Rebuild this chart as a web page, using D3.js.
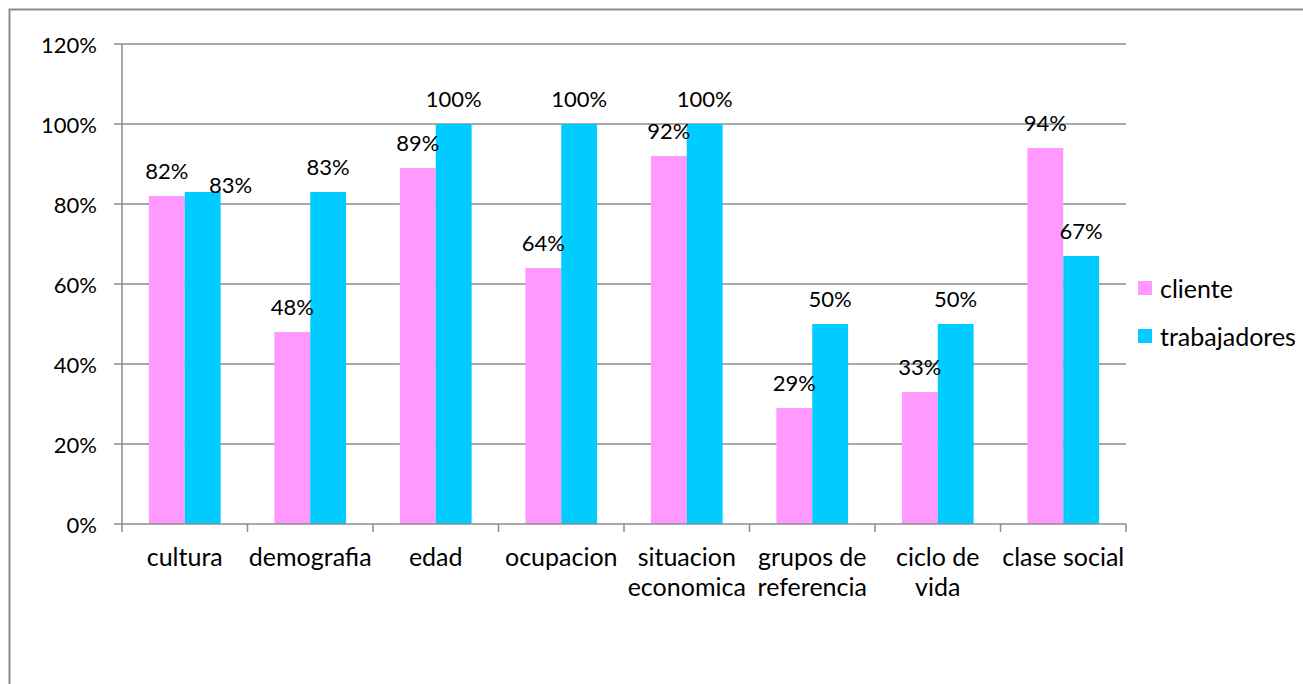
<!DOCTYPE html>
<html>
<head>
<meta charset="utf-8">
<script src="https://cdn.jsdelivr.net/npm/d3@7"></script>
<style>
  html, body { margin: 0; padding: 0; background: #fff; }
  svg { display: block; }
  text { font-family: Lato, "Open Sans", sans-serif; fill: #000; }
</style>
</head>
<body>
<svg id="chart" width="1303" height="684"></svg>
<script>
// chart data
const categories = [
  ['cultura'],
  ['demografia'],
  ['edad'],
  ['ocupacion'],
  ['situacion', 'economica'],
  ['grupos de', 'referencia'],
  ['ciclo de', 'vida'],
  ['clase social']
];
const seriesNames = ['cliente', 'trabajadores'];
const cliente = [0.82, 0.48, 0.89, 0.64, 0.92, 0.29, 0.33, 0.94];
const trabajadores = [0.83, 0.83, 1.00, 1.00, 1.00, 0.50, 0.50, 0.67];
const yTicks = [0, 0.2, 0.4, 0.6, 0.8, 1.0, 1.2];

const COLORS = { cliente: '#ff99ff', trabajadores: '#00ccff' };
const GRID = '#8c8c8c';
const NUM_FONT = 22;   // digits run wide in Lato, so numbers get a smaller size
const WORD_FONT = 25;

// Excel moved one label aside so it would not collide with its neighbour
const labelNudge = { '0-trabajadores': { dx: 28, dy: 18 } };

const svg = d3.select('#chart');
const margin = { left: 122, right: 1126, top: 44, bottom: 524 };

// outer chart border (runs off the right and bottom edges)
svg.append('rect')
  .attr('x', 9.5).attr('y', 9.5)
  .attr('width', 1400).attr('height', 800)
  .attr('fill', 'none')
  .attr('stroke', GRID)
  .attr('stroke-width', 2);

const keys = categories.map((c, i) => i);
const x0 = d3.scaleBand().domain(keys).range([margin.left, margin.right]).padding(0);
const x1 = d3.scaleBand().domain(seriesNames)
  .range([0, x0.bandwidth()])
  .paddingInner(0).paddingOuter(0.75);
const y = d3.scaleLinear().domain([0, 1.2]).range([margin.bottom, margin.top]);

// gridlines + y ticks
svg.append('g')
  .selectAll('line')
  .data(yTicks.filter(t => t > 0))
  .join('line')
  .attr('x1', margin.left - 8).attr('x2', margin.right)
  .attr('y1', d => y(d)).attr('y2', d => y(d))
  .attr('stroke', GRID).attr('stroke-width', 1.5);

svg.append('g')
  .selectAll('text')
  .data(yTicks)
  .join('text')
  .attr('x', margin.left - 25)
  .attr('y', d => y(d))
  .attr('text-anchor', 'end')
  .attr('dominant-baseline', 'central')
  .attr('font-size', NUM_FONT)
  .text(d => Math.round(d * 100) + '%');

// bars
const rows = keys.map(i => ({ i, cliente: cliente[i], trabajadores: trabajadores[i] }));
const groups = svg.append('g')
  .selectAll('g')
  .data(rows)
  .join('g')
  .attr('transform', d => `translate(${x0(d.i)},0)`);

groups.selectAll('rect')
  .data(d => seriesNames.map(s => ({ i: d.i, s, v: d[s] })))
  .join('rect')
  .attr('x', d => x1(d.s))
  .attr('width', x1.bandwidth())
  .attr('y', d => y(d.v))
  .attr('height', d => y(0) - y(d.v))
  .attr('fill', d => COLORS[d.s]);

// data labels
groups.selectAll('text')
  .data(d => seriesNames.map(s => ({ i: d.i, s, v: d[s] })))
  .join('text')
  .attr('x', d => x1(d.s) + x1.bandwidth() / 2 + ((labelNudge[d.i + '-' + d.s] || {}).dx || 0))
  .attr('y', d => y(d.v) - 26 + ((labelNudge[d.i + '-' + d.s] || {}).dy || 0))
  .attr('text-anchor', 'middle')
  .attr('dominant-baseline', 'central')
  .attr('font-size', NUM_FONT)
  .text(d => Math.round(d.v * 100) + '%');

// axes lines
svg.append('line')
  .attr('x1', margin.left).attr('x2', margin.left)
  .attr('y1', margin.top).attr('y2', margin.bottom)
  .attr('stroke', GRID).attr('stroke-width', 1.5);
svg.append('line')
  .attr('x1', margin.left - 8).attr('x2', margin.right)
  .attr('y1', margin.bottom).attr('y2', margin.bottom)
  .attr('stroke', GRID).attr('stroke-width', 1.5);

// x ticks at band edges
const edges = keys.map(i => x0(i)).concat([margin.right]);
svg.append('g')
  .selectAll('line')
  .data(edges)
  .join('line')
  .attr('x1', d => d).attr('x2', d => d)
  .attr('y1', margin.bottom).attr('y2', margin.bottom + 8)
  .attr('stroke', GRID).attr('stroke-width', 1.5);

// category labels
const catText = svg.append('g')
  .selectAll('text')
  .data(rows)
  .join('text')
  .attr('text-anchor', 'middle')
  .attr('font-size', WORD_FONT);
catText.selectAll('tspan')
  .data(d => categories[d.i].map(line => ({ i: d.i, line })))
  .join('tspan')
  .attr('x', d => x0(d.i) + x0.bandwidth() / 2)
  .attr('y', (d, j) => 566 + j * 30)
  .text(d => d.line);

// legend
const legend = svg.append('g').attr('transform', 'translate(1138,288)');
const li = legend.selectAll('g')
  .data(seriesNames)
  .join('g')
  .attr('transform', (d, i) => `translate(0,${i * 48})`);
li.append('rect')
  .attr('x', 0).attr('y', -7)
  .attr('width', 14).attr('height', 14)
  .attr('fill', d => COLORS[d]);
li.append('text')
  .attr('x', 22).attr('y', 0)
  .attr('dominant-baseline', 'central')
  .attr('font-size', WORD_FONT)
  .text(d => d);
</script>
</body>
</html>
